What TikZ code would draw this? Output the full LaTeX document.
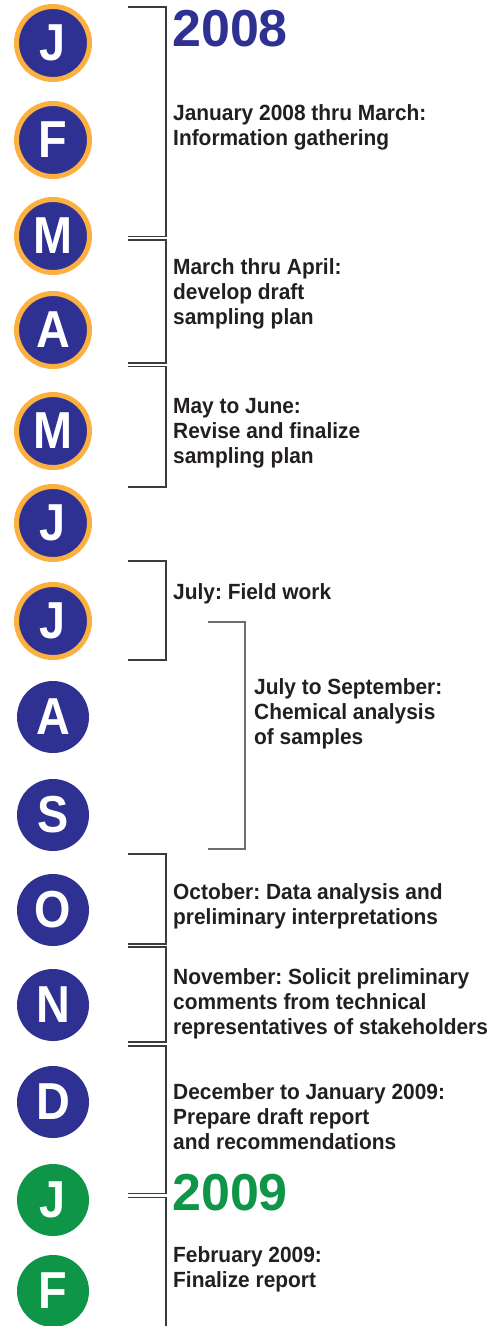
\documentclass[tikz,border=0pt]{standalone}
\usepackage{fontspec}
\setmainfont{Liberation Sans}
\newfontfamily\condfont{Liberation Sans}[FakeStretch=0.95]
\newfontfamily\lettfont{Liberation Sans}[FakeStretch=0.9]
\usetikzlibrary{positioning}
\definecolor{monthblue}{HTML}{2E3192}
\definecolor{ringorange}{HTML}{FBB040}
\definecolor{yeargreen}{HTML}{0F9548}
\definecolor{bracketgray}{HTML}{3C3C3C}
\definecolor{taskblack}{HTML}{231F20}
\frenchspacing

\begin{document}
\begin{tikzpicture}[x=1pt, y=-1pt,
   bracket/.style={draw=bracketgray, line width=1.1pt},
   month/.style={circle, fill=monthblue, minimum size=72pt, inner sep=0pt, text=white, font=\lettfont\bfseries\fontsize{52}{52}\selectfont},
   ringed/.style={month, draw=ringorange, line width=5pt, minimum size=73pt},
   newyear/.style={month, fill=yeargreen},
   task/.style={anchor=north west, align=left, inner sep=0pt, text=taskblack, font=\condfont\bfseries\fontsize{22}{25}\selectfont},
   year/.style={anchor=west, inner sep=0pt, font=\bfseries\fontsize{52}{52}\selectfont}]
\useasboundingbox (0,0) rectangle (496,1326);
\foreach \name/\lett/\y in {jan/J/43, feb/F/140, mar/M/236, apr/A/330, may/M/431, jun/J/523, jul/J/621}
   \node[ringed] (\name) at (53,\y) {\lett};
\foreach \name/\lett/\y in {aug/A/717, sep/S/815, oct/O/910, nov/N/1005, dec/D/1102}
   \node[month] (\name) at (53,\y) {\lett};
\foreach \name/\lett/\y in {jannext/J/1200, febnext/F/1291}
   \node[newyear] (\name) at (53,\y) {\lett};

\node[year, text=monthblue] (y2008) at (172,28.5) {2008};
\node[year, text=yeargreen] (y2009) at (172,1192.5) {2009};

\node[task] (gather) at (173,104) {January 2008 thru March:\\Information gathering};
\node[task] (draftplan) at (173,258) {March thru April:\\develop draft\\sampling plan};
\node[task] (finalplan) at (173,398) {May to June:\\Revise and finalize\\sampling plan};
\node[task] (field) at (173,583) {July: Field work};
\node[task] (chem) at (254,678) {July to September:\\Chemical analysis\\of samples};
\node[task] (data) at (173,883) {October: Data analysis and\\preliminary interpretations};
\node[task] (solicit) at (173,968) {November: Solicit preliminary\\comments from technical\\representatives of stakeholders};
\node[task] (prepare) at (173,1083) {December to January 2009:\\Prepare draft report\\and recommendations};
\node[task] (finalize) at (173,1246) {February 2009:\\Finalize report};

\foreach \top/\bot in {7/236.5, 240/363, 366.5/487, 561/660, 854/944, 947/1042, 1046/1193.5}
   \draw[bracket] (128,\top) -- (166,\top) -- (166,\bot) -- (128,\bot);
\draw[bracket, draw=bracketgray!75] (208,622) -- (245,622) -- (245,849) -- (208,849);
\draw[bracket] (128,1197.5) -- (166,1197.5) -- (166,1326);
\end{tikzpicture}
\end{document}
